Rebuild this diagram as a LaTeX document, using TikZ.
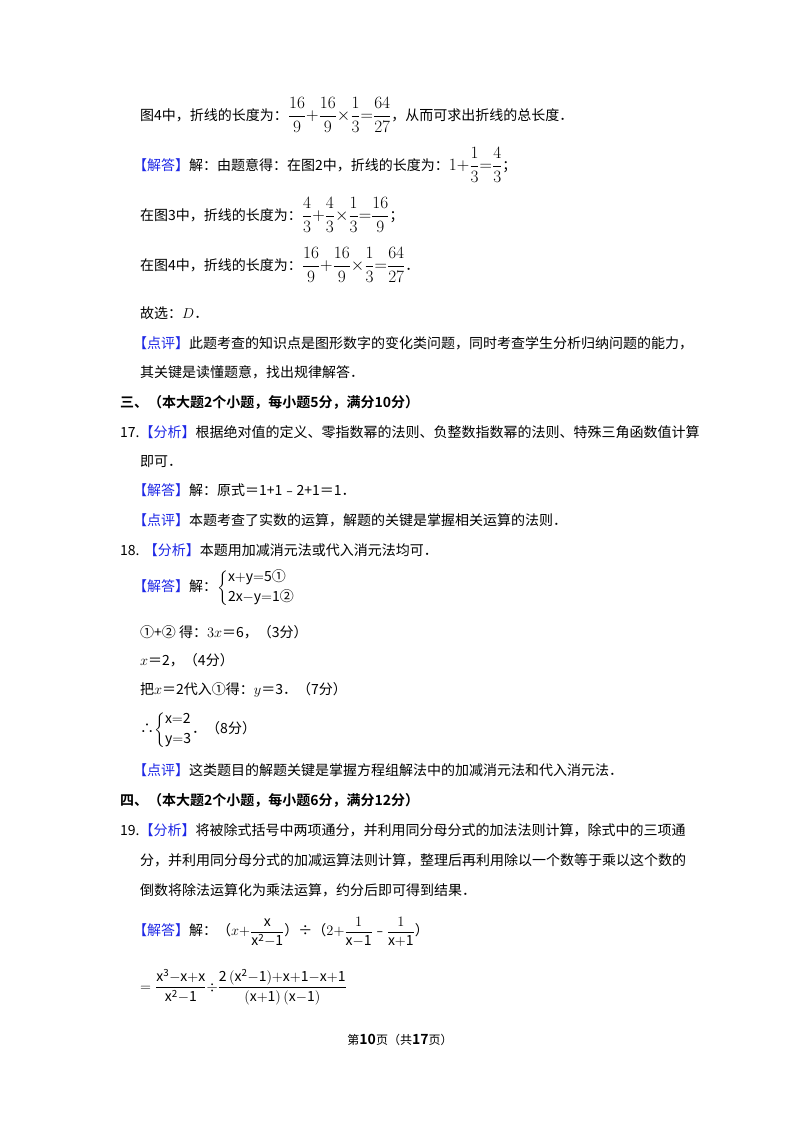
\documentclass[tikz,border=0pt]{standalone}
\usepackage{amsmath}
\usepackage{fontspec}
\setmainfont{Noto Sans CJK SC}
\newfontfamily\cjkb{Noto Sans CJK SC Bold}
\definecolor{tagblue}{RGB}{30,40,230}
\newcommand{\tg}[1]{\textcolor{tagblue}{【#1】}}
\newcommand{\bm}[1]{{\fontsize{16.5}{18}\selectfont$#1$}}
\begin{document}
\begin{tikzpicture}[x=1pt,y=-1pt,
  ln/.style={anchor=west,inner sep=0pt,font=\fontsize{14}{16}\selectfont}]
\useasboundingbox[fill=white] (0,0) rectangle (800,1132);
\node[ln] (l1) at (140,115) {图4中，折线的长度为：\bm{\dfrac{16}{9}{+}\dfrac{16}{9}{\times}\dfrac{1}{3}{=}\dfrac{64}{27}}，从而可求出折线的总长度．};
\node[ln] (l2) at (133,165) {\tg{解答}解：由题意得：在图2中，折线的长度为：\bm{1{+}\dfrac{1}{3}{=}\dfrac{4}{3}}；};
\node[ln] (l3) at (140,215) {在图3中，折线的长度为：\bm{\dfrac{4}{3}{+}\dfrac{4}{3}{\times}\dfrac{1}{3}{=}\dfrac{16}{9}}；};
\node[ln] (l4) at (140,265) {在图4中，折线的长度为：\bm{\dfrac{16}{9}{+}\dfrac{16}{9}{\times}\dfrac{1}{3}{=}\dfrac{64}{27}}．};
\node[ln] (l5) at (140,313) {故选：$D$．};
\node[ln] (l6) at (133,343) {\tg{点评}此题考查的知识点是图形数字的变化类问题，同时考查学生分析归纳问题的能力，};
\node[ln] (l7) at (140,372) {其关键是读懂题意，找出规律解答．};
\node[ln,font=\fontsize{14}{16}\cjkb] (l8) at (120,402) {三、（本大题2个小题，每小题5分，满分10分）};
\node[ln] (l9) at (120,432) {17.\tg{分析}根据绝对值的定义、零指数幂的法则、负整数指数幂的法则、特殊三角函数值计算};
\node[ln] (l10) at (140,462) {即可．};
\node[ln] (l11) at (133,490) {\tg{解答}解：原式＝1+1﹣2+1＝1．};
\node[ln] (l12) at (133,520) {\tg{点评}本题考查了实数的运算，解题的关键是掌握相关运算的法则．};
\node[ln] (l13) at (120,550) {18. \tg{分析}本题用加减消元法或代入消元法均可．};
\node[ln] (l14) at (133,588) {\tg{解答}解：$\left\{\begin{array}{@{}l@{}}\mathrm{x{+}y{=}5}\text{①}\\[4pt] \mathrm{2x{-}y{=}1}\text{②}\end{array}\right.$};
\node[ln] (l15) at (140,632) {①+② 得：$3x$＝6，（3分）};
\node[ln] (l16) at (140,660) {$x$＝2，（4分）};
\node[ln] (l17) at (140,690) {把$x$＝2代入①得：$y$＝3．（7分）};
\node[ln] (l18) at (140,730) {∴$\left\{\begin{array}{@{}l@{}}\mathrm{x{=}2}\\[4pt] \mathrm{y{=}3}\end{array}\right.$．（8分）};
\node[ln] (l19) at (133,770) {\tg{点评}这类题目的解题关键是掌握方程组解法中的加减消元法和代入消元法．};
\node[ln,font=\fontsize{14}{16}\cjkb] (l20) at (120,800) {四、（本大题2个小题，每小题6分，满分12分）};
\node[ln] (l21) at (120,830) {19.\tg{分析}将被除式括号中两项通分，并利用同分母分式的加法法则计算，除式中的三项通};
\node[ln] (l22) at (140,860) {分，并利用同分母分式的加减运算法则计算，整理后再利用除以一个数等于乘以这个数的};
\node[ln] (l23) at (140,890) {倒数将除法运算化为乘法运算，约分后即可得到结果．};
\node[ln] (l24) at (133,932) {\tg{解答}解：（$x{+}\dfrac{\mathrm{x}}{\mathrm{x^2{-}1}}$）÷（$2{+}\dfrac{1}{\mathrm{x{-}1}}$﹣$\dfrac{1}{\mathrm{x{+}1}}$）};
\node[ln] (l25) at (140,987) {$={\dfrac{\mathrm{x^3{-}x{+}x}}{\mathrm{x^2{-}1}}}{\div}{\dfrac{\mathrm{2\,(x^2{-}1){+}x{+}1{-}x{+}1}}{\mathrm{(x{+}1)\,(x{-}1)}}}$};
\node[anchor=center,inner sep=0pt,font=\fontsize{12}{14}\selectfont] (ft) at (400,1040) {第{\cjkb\fontsize{14}{14}\selectfont 10}页（共{\cjkb\fontsize{14}{14}\selectfont 17}页）};
\end{tikzpicture}
\end{document}
